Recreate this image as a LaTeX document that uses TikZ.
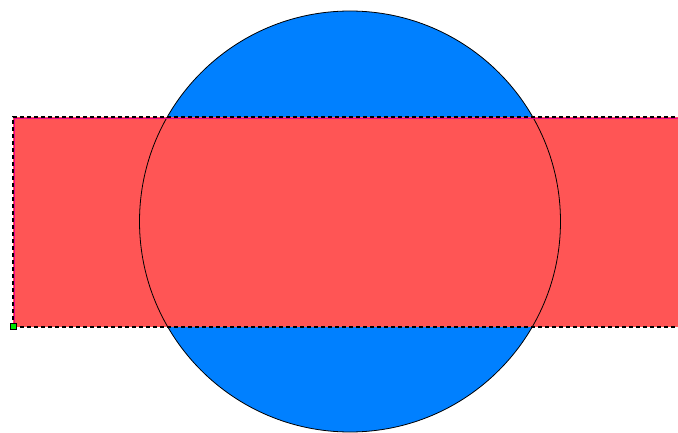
\documentclass[tikz,border=0pt]{standalone}
\begin{document}
\begin{tikzpicture}[x=1pt,y=1pt,
  redfill/.style={fill={rgb,255:red,255;green,85;blue,85}},
  bluefill/.style={fill={rgb,255:red,0;green,128;blue,255}},
  dashedge/.style={draw=black,dash pattern=on 4pt off 3pt,line width=1.2pt},
  magline/.style={draw=magenta,line width=1.2pt}]
\useasboundingbox (0,0) rectangle (678,432);
\fill[white] (0,0) rectangle (678,432);
% circle
\fill[bluefill] (350,210.5) circle (210.5);
% rectangle
\fill[redfill] (13,105) rectangle (680,315);
% circle outline on top
\draw[black,line width=0.8pt] (350,210.5) circle (210.5);
% magenta inner lines
\draw[magline] (14.5,105) -- (14.5,313.5) -- (680,313.5);
% dashed border
\draw[dashedge] (13,105) -- (13,315) -- (680,315);
\draw[dashedge] (13,105) -- (680,105);
% green handle
\draw[fill={rgb,255:red,0;green,230;blue,0},draw=black,line width=1pt] (10,103) rectangle (16,109);
\end{tikzpicture}
\end{document}
